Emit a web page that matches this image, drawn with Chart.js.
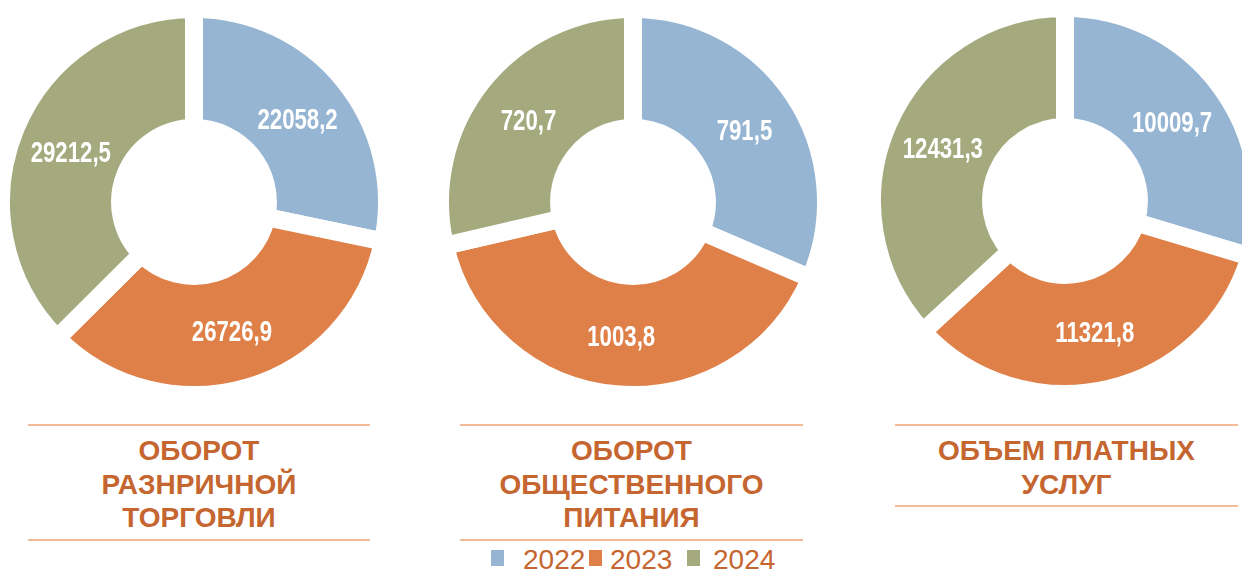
<!DOCTYPE html>
<html lang="ru">
<head>
<meta charset="utf-8">
<script src="https://cdn.jsdelivr.net/npm/chart.js@4.4.1/dist/chart.umd.min.js"></script>
<style>
  html, body { margin: 0; padding: 0; background: #fff; }
  body { position: relative; width: 1242px; height: 571px; overflow: hidden; font-family: "Liberation Sans", Arial, sans-serif; }
  canvas.donut { position: absolute; }
  .rule { position: absolute; height: 2px; background: #f3bb9a; }
  .title { position: absolute; text-align: center; color: #c5652f; font-weight: bold; font-size: 28px; line-height: 33.5px; white-space: nowrap; }
  .sq { position: absolute; width: 13px; height: 16px; }
  .yr { position: absolute; color: #c5652f; font-size: 28px; line-height: 28px; }
</style>
</head>
<body>
<canvas id="trade" class="donut" width="400" height="400"></canvas>
<canvas id="catering" class="donut" width="400" height="400"></canvas>
<canvas id="services" class="donut" width="400" height="400"></canvas>
<div id="titles"></div>
<div id="legend"></div>

<script>
// данные
const years = ["2022", "2023", "2024"];
const tradeValues = [22058.2, 26726.9, 29212.5];
const cateringValues = [791.5, 1003.8, 720.7];
const servicesValues = [10009.7, 11321.8, 12431.3];

const tradeTitle = ["ОБОРОТ", "РАЗНРИЧНОЙ", "ТОРГОВЛИ"];
const cateringTitle = ["ОБОРОТ", "ОБЩЕСТВЕННОГО", "ПИТАНИЯ"];
const servicesTitle = ["ОБЪЕМ ПЛАТНЫХ", "УСЛУГ"];

const colors = ["#96b5d3", "#de8048", "#a4aa7e"];

// подписи значений внутри сегментов
function fmt(v) {
  return v.toFixed(1).replace(".", ",");
}

const valueLabels = {
  id: "valueLabels",
  afterDatasetsDraw(chart) {
    const ctx = chart.ctx;
    const meta = chart.getDatasetMeta(0);
    const values = chart.data.datasets[0].data;
    ctx.save();
    ctx.fillStyle = "#ffffff";
    ctx.font = 'bold 30px "Liberation Sans", Arial, sans-serif';
    ctx.textAlign = "center";
    ctx.textBaseline = "alphabetic";
    meta.data.forEach((arc, i) => {
      const p = arc.tooltipPosition();
      ctx.save();
      ctx.translate(p.x, p.y + 11);
      ctx.scale(0.74, 1);
      ctx.fillText(fmt(values[i]), 0, 0);
      ctx.restore();
    });
    ctx.restore();
  },
};

function drawDonut(id, values, cx, cy) {
  const canvas = document.getElementById(id);
  canvas.style.left = cx - 200 + "px";
  canvas.style.top = cy - 200 + "px";
  return new Chart(canvas.getContext("2d"), {
    type: "doughnut",
    data: {
      labels: years,
      datasets: [
        {
          data: values,
          backgroundColor: colors,
          borderColor: "#ffffff",
          borderWidth: 18,
          borderJoinStyle: "miter",
          hoverOffset: 0,
        },
      ],
    },
    options: {
      responsive: false,
      maintainAspectRatio: false,
      animation: false,
      radius: 193,
      cutout: "38.3%",
      layout: { padding: 0 },
      plugins: {
        legend: { display: false },
        tooltip: { enabled: false },
      },
    },
    plugins: [valueLabels],
  });
}

drawDonut("trade", tradeValues, 194, 202);
drawDonut("catering", cateringValues, 633, 202);
drawDonut("services", servicesValues, 1065, 201);

// заголовки с линиями
function addTitle(lines, left, width, bottomRule) {
  const box = document.getElementById("titles");
  const top = document.createElement("div");
  top.className = "rule";
  top.style.left = left + "px";
  top.style.width = width + "px";
  top.style.top = "424px";
  box.appendChild(top);

  const t = document.createElement("div");
  t.className = "title";
  t.style.left = left + "px";
  t.style.width = width + "px";
  t.style.top = "434px";
  t.innerHTML = lines.join("<br>");
  box.appendChild(t);

  const bot = document.createElement("div");
  bot.className = "rule";
  bot.style.left = left + "px";
  bot.style.width = width + "px";
  bot.style.top = bottomRule + "px";
  box.appendChild(bot);
}

addTitle(tradeTitle, 28, 342, 539);
addTitle(cateringTitle, 460, 343, 539);
addTitle(servicesTitle, 895, 343, 505);

// легенда
const legendSquares = [491, 589, 687];
const legendTexts = [523, 610, 713];
const legend = document.getElementById("legend");
years.forEach((y, i) => {
  const sq = document.createElement("div");
  sq.className = "sq";
  sq.style.left = legendSquares[i] + "px";
  sq.style.top = "550px";
  sq.style.background = colors[i];
  legend.appendChild(sq);
  const tx = document.createElement("div");
  tx.className = "yr";
  tx.style.left = legendTexts[i] + "px";
  tx.style.top = "546px";
  tx.textContent = y;
  legend.appendChild(tx);
});
</script>
</body>
</html>
